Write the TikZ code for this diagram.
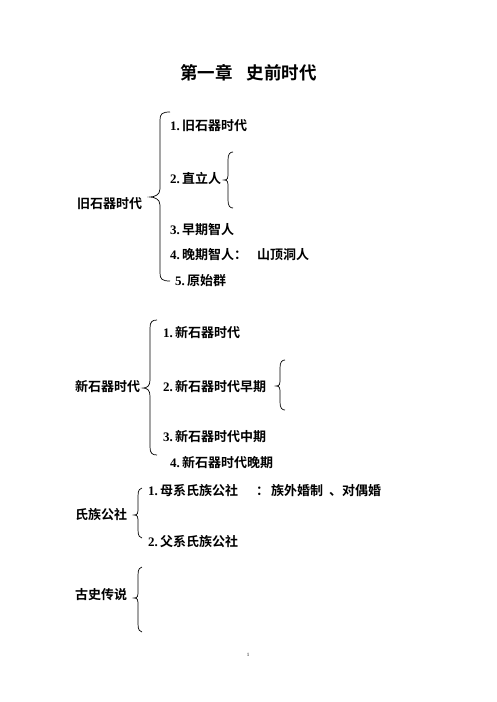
\documentclass[tikz,border=0pt]{standalone}
\usepackage{fontspec}
\newfontfamily\cjk{Noto Sans CJK SC}[BoldFont={Noto Sans CJK SC Bold}]
\newfontfamily\lat{Liberation Serif}
\tikzset{
  txt/.style={anchor=west, inner sep=0pt, font=\cjk\bfseries\fontsize{13}{13}\selectfont},
  ttl/.style={inner sep=0pt, font=\cjk\bfseries\fontsize{17.5}{17.5}\selectfont},
  brc/.style={line width=0.7pt, black}
}
\newcommand\mybrace[6]{%
  \draw[brc] (#1,#2) .. controls (#3+2,#2) and (#3,#2+2) .. (#3,#2+8)
    -- (#3,#5-8) .. controls (#3,#5-2) and (#4+4,#5) .. (#4,#5)
    .. controls (#4+4,#5) and (#3,#5+2) .. (#3,#5+8)
    -- (#3,#6-8) .. controls (#3,#6-2) and (#3+2,#6) .. (#1,#6);}
\newcommand\nm[1]{{\lat\bfseries #1}\,}
\begin{document}
\begin{tikzpicture}[x=1pt,y=-1pt]
\useasboundingbox (0,0) rectangle (496,702);
\fill[white] (0,0) rectangle (496,702);
\node[ttl] (title) at (248.5,73) {第一章\hspace{0.8em}史前时代};
% section 1
\node[txt] (a0) at (77,204) {旧石器时代};
\mybrace{170}{112}{160}{150}{197}{281}
\node[txt] (a1) at (170,126) {\nm{1.}旧石器时代};
\node[txt] (a2) at (170,178) {\nm{2.}直立人};
\mybrace{233}{152}{228}{224}{180}{208}
\node[txt] (a3) at (170,230) {\nm{3.}早期智人};
\node[txt] (a4) at (170,255) {\nm{4.}晚期智人：};
\node[txt] (a4b) at (257,255) {山顶洞人};
\node[txt] (a5) at (175,281) {\nm{5.}原始群};
% section 2
\node[txt] (b0) at (75,387) {新石器时代};
\mybrace{157}{320}{150}{143}{388}{455}
\node[txt] (b1) at (163,333) {\nm{1.}新石器时代};
\node[txt] (b2) at (163,387) {\nm{2.}新石器时代早期};
\mybrace{285}{360}{280}{276}{386}{410}
\node[txt] (b3) at (163,437) {\nm{3.}新石器时代中期};
\node[txt] (b4) at (170,463) {\nm{4.}新石器时代晚期};
% section 3
\node[txt] (c0) at (75,515) {氏族公社};
\mybrace{142}{488}{138}{134}{515}{538}
\node[txt] (c1) at (148,491) {\nm{1.}母系氏族公社};
\node[txt] (c1a) at (256,491) {：};
\node[txt] (c1b) at (271,491) {族外婚制};
\node[txt] (c1d) at (329,491) {、对偶婚};
\node[txt] (c2) at (148,542) {\nm{2.}父系氏族公社};
% section 4
\node[txt] (d0) at (75,595) {古史传说};
\mybrace{142}{567}{138}{134}{598}{632}
% page number
\node[inner sep=0pt, font=\lat\fontsize{5}{5}\selectfont] (pg) at (248,655) {1};
\end{tikzpicture}
\end{document}
